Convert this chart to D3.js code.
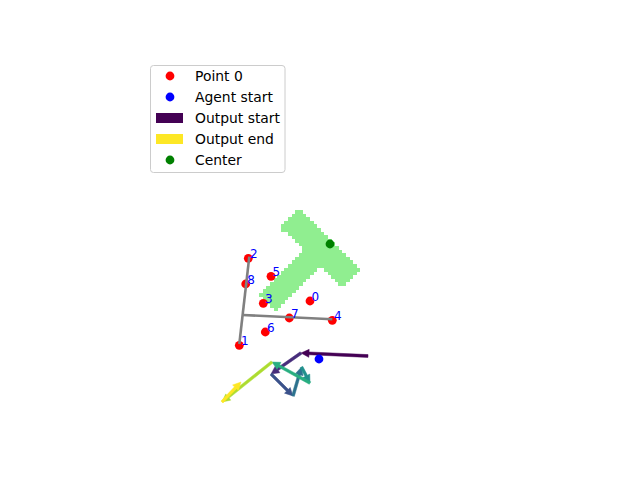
<!DOCTYPE html>
<html>
<head>
<meta charset="utf-8">
<script src="https://cdn.jsdelivr.net/npm/d3@7"></script>
<style>
html,body{margin:0;padding:0;background:#fff;}
svg{display:block;font-family:"DejaVu Sans",sans-serif;}
</style>
</head>
<body>
<svg id="chart" width="640" height="480"></svg>
<script>
// ---- data (world units) ----
const pointLabels = ["0","1","2","3","4","5","6","7","8"];
const pointX = [31.00, 23.93, 24.83, 26.33, 33.23, 27.10, 26.53, 28.93, 24.57];
const pointY = [17.90, 13.47, 22.17, 17.67, 15.97, 20.37, 14.80, 16.20, 19.60];

// gray axis lines [x1,y1,x2,y2]
const axisLineA = [24.93, 22.33, 23.93, 13.60];
const axisLineB = [24.26, 16.50, 33.23, 16.07];

const agentStart = [31.9, 12.1];
const centerPt = [33.0, 23.6];

// output path vertices
const pathX = [36.8, 30.1, 27.1, 29.3, 30.15, 31.0, 27.2, 22.2, 24.1];
const pathY = [12.4, 12.7, 10.6,  8.4, 11.3,   9.7, 11.8,  7.8,  9.8];
// colour position of each segment along the colormap (out of 8 steps)
const segColorStep = [0, 1, 2, 3, 4, 5, 7, 8];
const colorSteps = 8;

// T-shaped region (two bars: [x1,y1,x2,y2]) and half-widths
const barSegments = [[28.95, 26.13, 35.13, 20.07], [32.04, 23.10, 26.78, 17.72]];
const barHalfWidths = [1.28, 1.18];
const cellSize = 0.36;

const legendLabels = ["Point 0", "Agent start", "Output start", "Output end", "Center"];

// ---- scales ----
const svg = d3.select("#chart");
const x = d3.scaleLinear().domain([0, 64]).range([0, 640]);
const y = d3.scaleLinear().domain([0, 48]).range([480, 0]);

// ---- raster region ----
function distToSeg(px, py, s) {
  const [x1, y1, x2, y2] = s;
  const dx = x2 - x1, dy = y2 - y1;
  const L2 = dx * dx + dy * dy;
  const t = ((px - x1) * dx + (py - y1) * dy) / L2;
  if (t < 0 || t > 1) return Infinity;
  const qx = x1 + t * dx, qy = y1 + t * dy;
  return Math.hypot(px - qx, py - qy);
}
const cells = [];
const xs = barSegments.flatMap(s => [s[0], s[2]]);
const ys = barSegments.flatMap(s => [s[1], s[3]]);
const gx0 = Math.floor((d3.min(xs) - 2) / cellSize), gx1 = Math.ceil((d3.max(xs) + 2) / cellSize);
const gy0 = Math.floor((d3.min(ys) - 2) / cellSize), gy1 = Math.ceil((d3.max(ys) + 2) / cellSize);
for (let i = gx0; i <= gx1; i++) {
  for (let j = gy0; j <= gy1; j++) {
    const cx = (i + 0.5) * cellSize, cy = (j + 0.5) * cellSize;
    if (barSegments.some((s, k) => distToSeg(cx, cy, s) <= barHalfWidths[k])) cells.push([i * cellSize, j * cellSize]);
  }
}
svg.append("g").selectAll("rect").data(cells).join("rect")
  .attr("x", d => x(d[0]))
  .attr("y", d => y(d[1] + cellSize))
  .attr("width", x(cellSize) - x(0) + 0.3)
  .attr("height", y(0) - y(cellSize) + 0.3)
  .attr("fill", "#90ee90")
  .attr("shape-rendering", "crispEdges");

// ---- arrows ----
function arrowPath(x1, y1, x2, y2, w, hw, hl) {
  const dx = x2 - x1, dy = y2 - y1;
  const L = Math.hypot(dx, dy);
  const ux = dx / L, uy = dy / L, nx = -uy, ny = ux;
  const bl = Math.max(L - hl, 0);
  const pts = [
    [x1 + nx * w / 2, y1 + ny * w / 2],
    [x1 + ux * bl + nx * w / 2, y1 + uy * bl + ny * w / 2],
    [x1 + ux * bl + nx * hw / 2, y1 + uy * bl + ny * hw / 2],
    [x2, y2],
    [x1 + ux * bl - nx * hw / 2, y1 + uy * bl - ny * hw / 2],
    [x1 + ux * bl - nx * w / 2, y1 + uy * bl - ny * w / 2],
    [x1 - nx * w / 2, y1 - ny * w / 2]
  ];
  return "M" + pts.map(p => p.join(",")).join("L") + "Z";
}
const nSeg = pathX.length - 1;
const segs = d3.range(nSeg).map(i => ({i, x1: pathX[i], y1: pathY[i], x2: pathX[i + 1], y2: pathY[i + 1],
  c: d3.interpolateViridis(segColorStep[i] / colorSteps)}));
svg.append("g").selectAll("path").data(segs).join("path")
  .attr("d", d => arrowPath(x(d.x1), y(d.y1), x(d.x2), y(d.y2), 2.8, 8, 8))
  .attr("fill", d => d.c)
  .attr("stroke", d => d.c)
  .attr("stroke-width", 0.5)
  .attr("stroke-linejoin", "miter");

// ---- scatter ----
const pts = pointX.map((v, i) => ({x: v, y: pointY[i], label: pointLabels[i]}));
svg.append("g").selectAll("circle").data(pts).join("circle")
  .attr("cx", d => x(d.x)).attr("cy", d => y(d.y)).attr("r", 4.4).attr("fill", "#ff0000");
svg.append("circle").attr("cx", x(agentStart[0])).attr("cy", y(agentStart[1])).attr("r", 4.4).attr("fill", "#0000ff");
svg.append("circle").attr("cx", x(centerPt[0])).attr("cy", y(centerPt[1])).attr("r", 4.4).attr("fill", "#008000");

// ---- gray lines ----
svg.append("g").selectAll("line").data([axisLineA, axisLineB]).join("line")
  .attr("x1", d => x(d[0])).attr("y1", d => y(d[1]))
  .attr("x2", d => x(d[2])).attr("y2", d => y(d[3]))
  .attr("stroke", "#808080").attr("stroke-width", 2.6).attr("stroke-linecap", "butt");

// ---- labels ----
svg.append("g").selectAll("text").data(pts).join("text")
  .attr("x", d => x(d.x) + 1.6).attr("y", d => y(d.y) - 0.4)
  .attr("fill", "#0000ff").attr("font-size", 12)
  .text(d => d.label);

// ---- legend ----
const lg = svg.append("g").attr("transform", "translate(150.5,65.5)");
lg.append("rect").attr("width", 134.5).attr("height", 107).attr("rx", 3).attr("ry", 3)
  .attr("fill", "#ffffff").attr("fill-opacity", 0.8).attr("stroke", "#cccccc").attr("stroke-width", 1);
const legendColors = ["#ff0000", "#0000ff", d3.interpolateViridis(0), d3.interpolateViridis(1), "#008000"];
const legendKinds = ["circle", "circle", "rect", "rect", "circle"];
legendLabels.forEach((lab, i) => {
  const cy = 10.5 + i * 21;
  if (legendKinds[i] === "circle") {
    lg.append("circle").attr("cx", 19.5).attr("cy", cy).attr("r", 4.4).attr("fill", legendColors[i]);
  } else {
    lg.append("rect").attr("x", 5.5).attr("y", cy - 5).attr("width", 27).attr("height", 10).attr("fill", legendColors[i]);
  }
  lg.append("text").attr("x", 44.5).attr("y", cy).attr("dy", "0.36em")
    .attr("font-size", 13.9).attr("fill", "#000").text(lab);
});
</script>
</body>
</html>
